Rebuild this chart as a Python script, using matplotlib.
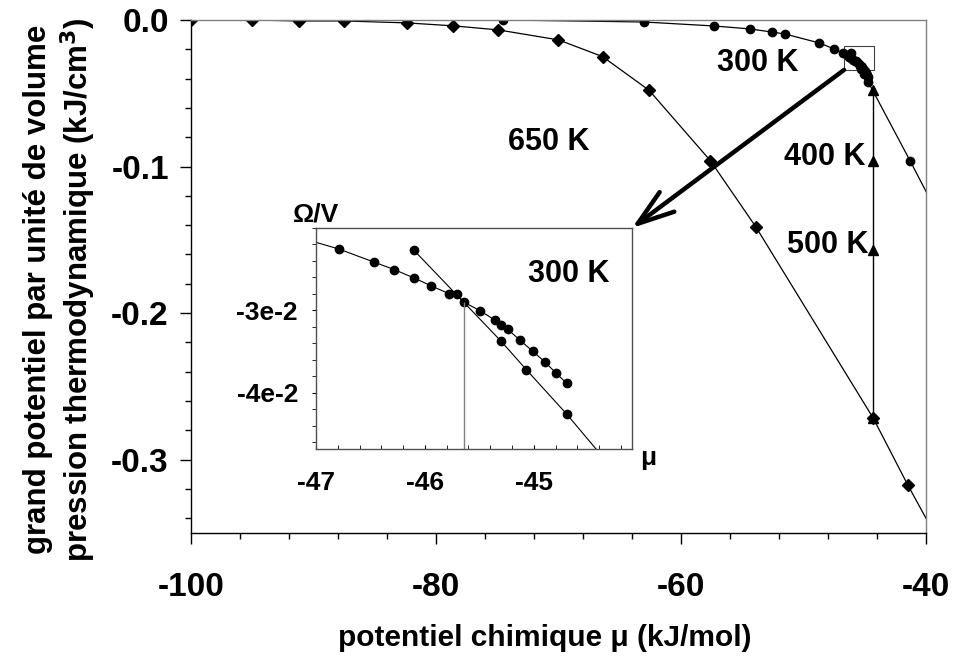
import matplotlib
matplotlib.use("Agg")
import matplotlib.pyplot as plt
from matplotlib.patches import Rectangle
from matplotlib.ticker import MultipleLocator, FixedLocator, FuncFormatter

# --- Data -------------------------------------------------------------------
# 650 K isotherm (diamonds); last point lies outside the visible range
MU_650 = [-100.0, -95.0, -91.2, -87.5, -82.4, -78.6, -74.9, -70.0, -66.4,
          -62.6, -57.6, -53.9, -44.3, -41.5, -37.5]
OMEGA_650 = [0.0, 0.0, -0.0007, -0.0007, -0.0020, -0.0040, -0.0068, -0.0136,
             -0.0250, -0.0480, -0.0960, -0.1410, -0.2717, -0.3170, -0.3780]

# 300 K isotherm, first branch (circles)
MU_300_A = [-74.5, -63.0, -57.3, -54.4, -52.6, -51.5, -48.7, -47.5,
            -46.79, -46.47, -46.28, -46.10, -45.94, -45.78, -45.71, -45.64,
            -45.49, -45.36, -45.30, -45.24, -45.13, -45.01, -44.90, -44.80,
            -44.70]
OMEGA_300_A = [0.0, -0.0014, -0.0041, -0.0061, -0.0082, -0.0096, -0.0157,
               -0.0198, -0.02255, -0.02412, -0.02505, -0.02606, -0.02703,
               -0.02796, -0.02804, -0.02901, -0.03006, -0.03115, -0.03172,
               -0.03228, -0.03358, -0.03495, -0.03624, -0.03754, -0.03883]

# 300 K isotherm, second branch (circles)
MU_300_B = [-46.10, -45.30, -45.07, -44.70, -41.3, -38.5]
OMEGA_300_B = [-0.02271, -0.03374, -0.03717, -0.04255, -0.0960, -0.1410]

# 400 K / 500 K transition (triangles)
MU_TRANS = [-44.3, -44.3, -44.3, -44.3]
OMEGA_TRANS = [-0.0478, -0.0960, -0.1569, -0.2717]

# 300 K crossing point (inset vertical line)
MU_CROSS = -45.64
OMEGA_CROSS = -0.0290

# zoom box drawn in the main plot
BOX_MU = (-46.69, -44.24)
BOX_OMEGA = (-0.0341, -0.0177)

LABELS = [("300 K", -53.7, -0.0293), ("650 K", -70.8, -0.0832),
          ("400 K", -48.3, -0.0935), ("500 K", -48.0, -0.1535)]

plt.rcParams["font.family"] = ["Liberation Sans", "DejaVu Sans"]
plt.rcParams["font.weight"] = "bold"
plt.rcParams["axes.unicode_minus"] = False

GRAY = "#808080"


def fmt_main(v, pos):
    s = f"{v:.1f}"
    return "0.0" if s == "-0.0" else s


def fmt_inset(v, pos):
    return f"-{abs(round(v * 100)):.0f}e-2"


def main():
    fig = plt.figure(figsize=(9.54, 6.63), dpi=100)
    ax = fig.add_axes([0.2002, 0.1961, 0.7704, 0.7738])

    ax.plot(MU_650, OMEGA_650, color="black", lw=0.9, marker="D", ms=6)
    ax.plot(MU_300_A, OMEGA_300_A, color="black", lw=0.9, marker="o", ms=6)
    ax.plot(MU_300_B, OMEGA_300_B, color="black", lw=0.9, marker="o", ms=6)
    ax.plot(MU_TRANS, OMEGA_TRANS, color="black", lw=1.0, marker="^", ms=7)

    ax.set_xlim(-100, -40)
    ax.set_ylim(-0.35, 0.0)
    ax.xaxis.set_major_locator(MultipleLocator(20))
    ax.xaxis.set_minor_locator(MultipleLocator(4))
    ax.yaxis.set_major_locator(MultipleLocator(0.1))
    ax.yaxis.set_minor_locator(MultipleLocator(0.02))
    ax.yaxis.set_major_formatter(FuncFormatter(fmt_main))
    ax.tick_params(axis="x", which="major", direction="out", length=8,
                   width=1, labelsize=24, pad=20)
    ax.tick_params(axis="y", which="major", direction="out", length=8,
                   width=1, labelsize=24, pad=8)
    ax.tick_params(which="minor", direction="out", length=4, width=1)
    for side in ("top", "right"):
        ax.spines[side].set_color(GRAY)
    for sp in ax.spines.values():
        sp.set_linewidth(1.0)

    for txt, x, y in LABELS:
        ax.text(x, y, txt, fontsize=22, fontweight="bold",
                ha="center", va="center")

    ax.add_patch(Rectangle((BOX_MU[0], BOX_OMEGA[0]),
                           BOX_MU[1] - BOX_MU[0], BOX_OMEGA[1] - BOX_OMEGA[0],
                           fill=False, edgecolor="#404040", lw=0.8, zorder=1))

    fig.text(0.571, 0.038, "potentiel chimique \u03bc (kJ/mol)", fontsize=21.5,
             fontweight="bold", ha="center", va="center")
    fig.text(0.040, 0.563, "grand potentiel par unit\u00e9 de volume",
             fontsize=22.5, fontweight="bold", rotation=90,
             ha="center", va="center")
    fig.text(0.082, 0.563, "pression thermodynamique (kJ/cm$^\\mathbf{3}$)",
             fontsize=22.5, fontweight="bold", rotation=90,
             ha="center", va="center")

    # --- inset ----------------------------------------------------------------
    ax_in = fig.add_axes([0.3312, 0.3228, 0.3312, 0.3333])
    ax_in.plot(MU_300_A, OMEGA_300_A, color="black", lw=0.8, marker="o", ms=6)
    ax_in.plot(MU_300_B, OMEGA_300_B, color="black", lw=0.8, marker="o", ms=6)
    ax_in.vlines(MU_CROSS, -0.06, OMEGA_CROSS, color=GRAY, lw=1.0)
    ax_in.set_xlim(-47, -44.1)
    ax_in.set_ylim(-0.0468, -0.02)
    ax_in.xaxis.set_major_locator(FixedLocator([-47, -46, -45]))
    ax_in.xaxis.set_minor_locator(MultipleLocator(0.2))
    ax_in.yaxis.set_major_locator(FixedLocator([-0.03, -0.04]))
    ax_in.yaxis.set_minor_locator(MultipleLocator(0.002))
    ax_in.yaxis.set_major_formatter(FuncFormatter(fmt_inset))
    ax_in.tick_params(axis="x", which="both", direction="in", length=3,
                      labelsize=19, pad=16)
    ax_in.tick_params(axis="y", which="both", direction="out", length=3,
                      labelsize=19, pad=10)
    for sp in ax_in.spines.values():
        sp.set_color("#505050")
        sp.set_linewidth(1.0)
    ax_in.text(0.80, 0.79, "300 K", transform=ax_in.transAxes, fontsize=22,
               fontweight="bold", ha="center", va="center")
    ax_in.text(0.0, 1.06, "\u03a9/V", transform=ax_in.transAxes, fontsize=19,
               fontweight="bold", ha="center", va="center")
    ax_in.text(1.05, -0.04, "\u03bc", transform=ax_in.transAxes, fontsize=19,
               fontweight="bold", ha="center", va="center")

    # arrow from the zoom box to the inset corner
    ax.annotate("", xy=(1.0, 1.0), xycoords=ax_in.transAxes,
                xytext=(BOX_MU[0], BOX_OMEGA[0]), textcoords="data",
                arrowprops=dict(arrowstyle="->,head_length=1.2,head_width=0.4",
                                mutation_scale=22, lw=3.2, color="black",
                                shrinkA=0, shrinkB=0))

    fig.savefig("out.png", dpi=100)


if __name__ == "__main__":
    main()
